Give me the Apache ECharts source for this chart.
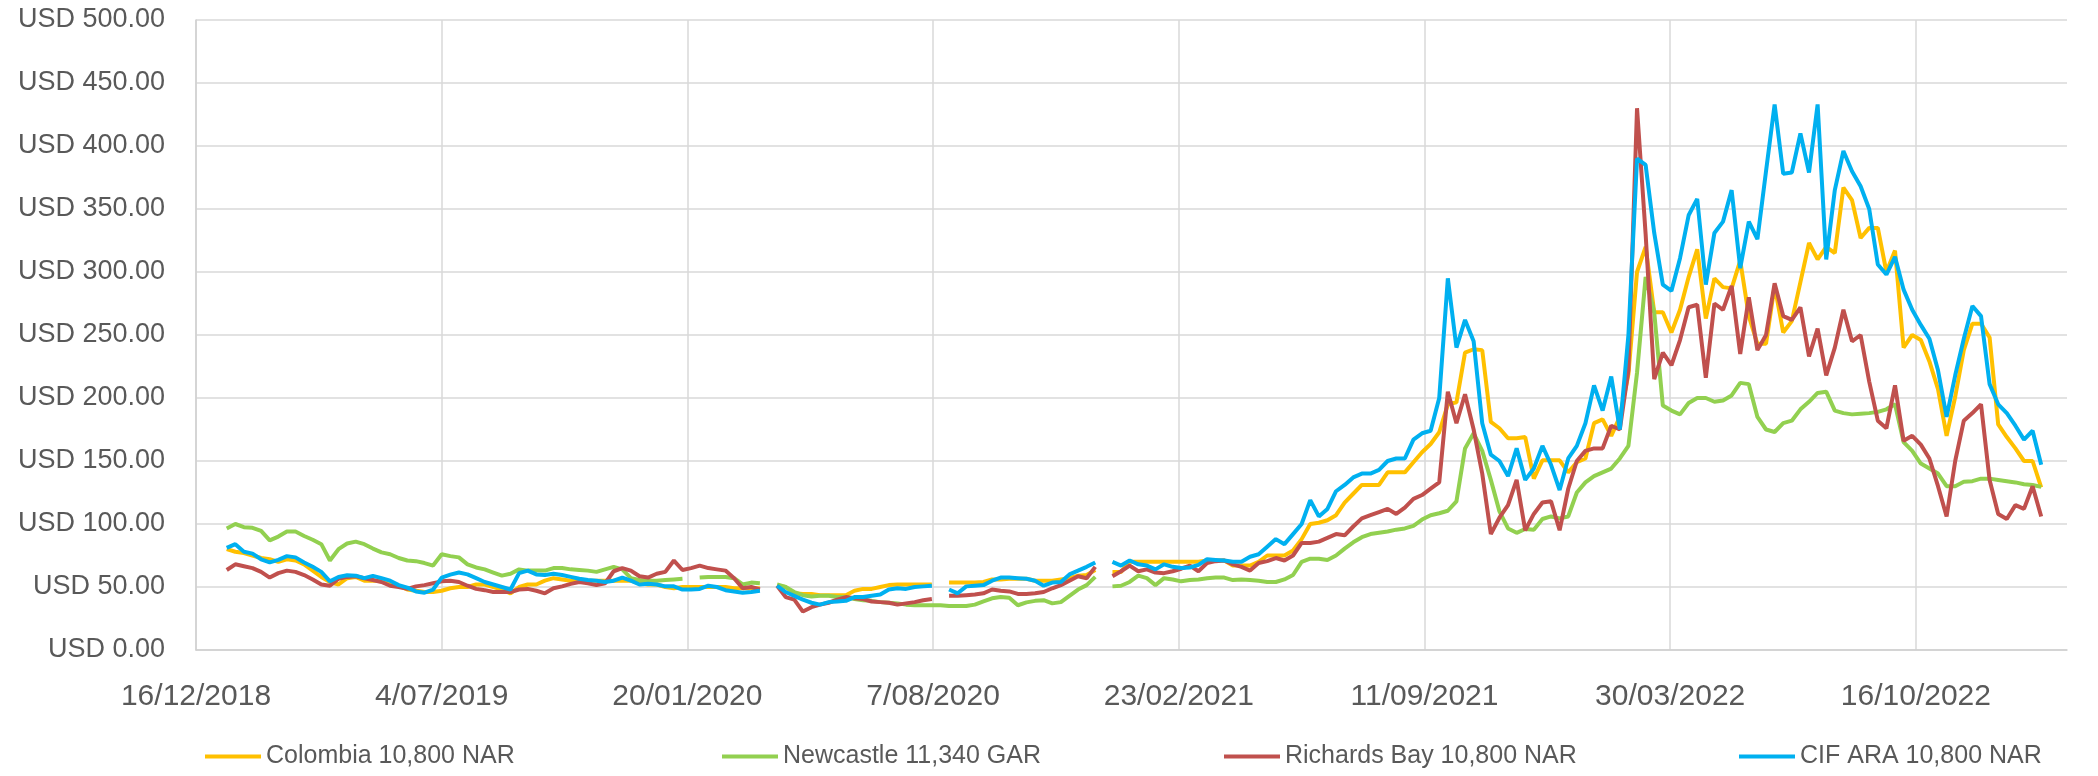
<!DOCTYPE html>
<html>
<head lang="en">
    <meta charset="UTF-8">
    <title>Thermal coal prices</title>
    <script src="https://cdn.jsdelivr.net/npm/echarts@6/dist/echarts.min.js"></script>
    <style>
        html, body { margin: 0; padding: 0; background: #fff; }
        #main { width: 2098px; height: 776px; }
    </style>
</head>
<body>
<div id="main"></div>
<script>
    // names and x tick labels (ticks every 200 days from 16/12/2018)
    var seriesNames = ['Colombia 10,800 NAR', 'Newcastle 11,340 GAR', 'Richards Bay 10,800 NAR', 'CIF ARA 10,800 NAR'];
    var xTickLabels = ['16/12/2018', '4/07/2019', '20/01/2020', '7/08/2020', '23/02/2021', '11/09/2021', '30/03/2022', '16/10/2022'];

    // weekly readings, first one on 10/01/2019 (day 25 after 16/12/2018), null = gap in the source data
    var colombia = [
        80, 78, 77, 75, 73, 72, 70, 72, 71, 68,
        63, 58, 54, 52, 57, 58, 55, 55, 55, 54,
        51, 48, 47, 46, 46, 47, 49, 50, 50, 52,
        52, 50, 48, 45, 50, 52, 52, 55, 57, 56,
        55, 55, 55, 55, 55, 55, 55, 55, 53, 52,
        52, 50, 49, 50, 50, 50, 50, 50, 50, 49,
        49, 49, 49, null, 51, 50, 45, 44.5, 44.5, 43.5,
        43.5, 43.5, 43.5, 47, 48.5, 48.5, 50, 51.5, 52, 52,
        52, 52, 52, null, 53.5, 53.5, 53.5, 53.5, 54, 56,
        56, 56.5, 56.5, 56.5, 55, 55, 55, 56, 57, 59,
        59.5, 63.5, null, 62, 62, 70, 70, 70, 70, 70,
        70, 70, 70, 70, 71, 71, 71, 67, 67, 67,
        70, 75, 75, 75, 79, 88, 100, 101, 103, 107,
        117, 124, 131, 131, 131, 141, 141, 141, 149, 157,
        163.5, 172.8, 195, 196.6, 236, 238.7, 238, 181, 176, 168,
        168, 169, 136, 150.5, 150.5, 150.5, 141, 149, 152, 180,
        183, 170, 185, 219, 300, 320, 268, 268, 252, 270,
        296, 318, 263, 295, 288, 287, 309, 265, 243, 243,
        289, 252, 261, 292, 323, 310, 320, 315, 367, 357,
        327, 335, 335, 300, 317, 240, 250, 246, 229, 207,
        170, 201, 238, 259, 259, 248, 179, 169, 160, 150,
        150, 129
    ];
    var newcastle = [
        96.5, 100, 97.5, 97, 94.5, 87, 90, 94, 94, 90.5,
        87.5, 84, 71, 80, 84.5, 86, 84, 80.5, 77.5, 76,
        73, 71, 70.5, 69, 67, 76, 74.5, 73.5, 68, 65.5,
        64, 61.5, 59, 60.5, 64, 63, 63, 63, 65, 65,
        64, 63.5, 63, 62, 64, 66, 64, 57, 55.5, 55,
        55, 55.5, 56, 56.5, null, 57.5, 58, 58, 58, 57,
        52, 53.5, 53, null, 52, 50, 46, 43.5, 42.5, 43,
        43, 42, 42, 40.5, 39.5, 39, 38, 37.5, 37, 36,
        35.5, 35.5, 35.5, 35.5, 35, 35, 35, 36, 38.5, 41,
        42, 41.5, 35.5, 37.8, 39, 39.5, 37, 38, 43, 48,
        51.5, 58, null, 50.5, 51, 54, 59, 57, 51.5, 57,
        56, 54.5, 55.5, 56, 57, 57.5, 57.5, 55.5, 56, 55.5,
        55, 54, 54, 56, 59.5, 70, 72.5, 72.5, 71.5, 75,
        80.5, 85.5, 89.5, 92, 93, 94, 95.5, 96.5, 98.5, 103.5,
        107, 108.5, 110.5, 118, 160, 172, 158, 135, 110, 96.5,
        93, 96, 95.5, 104, 106, 104.5, 106, 125, 133, 138,
        141, 144, 152, 162, 220, 296, 268, 194, 190, 187,
        196, 200, 200, 197, 198, 202, 212, 211, 185, 175,
        173, 180, 182, 191, 197, 204, 205, 190, 188, 187,
        187.5, 188, 189, 191, 195, 165, 158, 148, 144, 140,
        130, 130, 133.5, 134, 136, 136, 135, 134, 133, 131.5,
        131, 129.5
    ];
    var richardsBay = [
        63.5, 68, 66.5, 65, 62, 57.5, 61, 63, 62, 59.5,
        56, 52, 51, 56.5, 58, 58.5, 57, 55.5, 54, 51,
        50, 48.5, 50.5, 51.5, 53, 54.5, 55, 54, 51, 48.5,
        47.5, 46, 46, 46, 48, 48.5, 47, 45, 49, 50.5,
        52.5, 54, 53, 51.5, 53, 62.5, 65, 63, 58.5, 57.5,
        60.5, 62, 71, 63.5, 65, 67, 65, 64, 63, 57,
        49, 50, 48, null, 51, 42, 40, 30.5, 34, 36,
        37.5, 40, 42, 41, 40.5, 38.5, 38, 37.5, 36, 37,
        38, 39.5, 40.5, null, 43, 43, 43.5, 44, 45, 48,
        47, 46.5, 44.5, 44.5, 45, 46, 49, 51.5, 55, 58.5,
        57, 66, null, 58.5, 62.5, 67, 62.5, 64, 61.5, 61,
        62.5, 64.5, 67, 62.5, 69, 70.5, 71, 68, 66, 63,
        69, 70.5, 73, 71, 75, 85, 85, 86, 89, 92,
        91, 98, 104.5, 107, 109.5, 112, 108, 113, 120, 123,
        128, 133, 205, 180, 203, 175, 140, 92, 105, 115,
        135, 95, 108, 117, 118, 95, 128, 150, 158, 160,
        160, 178, 175, 222, 430, 330, 215, 236, 226, 246,
        272, 274, 216, 275, 270, 289, 235, 280, 238, 250,
        291, 265, 262, 272, 233, 255, 218, 240, 270, 245,
        250, 213, 182, 176, 210, 166, 170, 163, 152, 130,
        106, 150, 182, 188, 195, 135, 108, 104, 115, 112,
        130, 106
    ];
    var cifAra = [
        81, 84, 78, 76.5, 72, 69.5, 71.5, 74.5, 73.5, 69.5,
        66, 62, 54.5, 58, 59.3, 59, 57, 58.8, 57, 55,
        51.5, 49.5, 46.5, 45.5, 48, 57.5, 59.8, 61.5, 60, 57,
        54, 52, 50, 48, 61, 63, 60, 59.5, 60.5, 59.5,
        58, 56.5, 55.5, 55, 54, 55, 57.5, 55, 52, 52.5,
        52, 50.5, 50.5, 48, 48, 48.5, 51, 50, 47.5, 46.5,
        45.5, 46, 47, null, 51, 46, 43, 40, 37.5, 36,
        38, 38.5, 39, 42, 42, 43, 44, 48, 49, 48.5,
        50, 50.5, 51, null, 48, 45, 50.5, 51, 51.5, 55,
        57.5, 57.5, 57, 56.5, 55, 51, 53.5, 54, 60, 63,
        66, 69.5, null, 70, 67, 71, 68, 67, 64, 68,
        66, 65, 65.5, 67.5, 72, 71.5, 71, 70, 70, 74,
        76, 82, 88, 84, 92, 100, 119, 106, 112, 126,
        131, 137, 140, 140, 143, 150, 152, 152, 167, 172,
        174, 200, 295, 240, 262, 245, 180, 155, 150, 138,
        160, 135, 144, 162, 147, 127, 152, 162, 180, 210,
        190, 217, 175, 250, 390, 385, 331, 290, 285, 311,
        345, 358, 290, 331, 340, 365, 303, 340, 326, 380,
        433, 378, 379, 410, 379, 433, 310, 365, 396, 380,
        368, 350, 306, 298, 312, 286, 270, 258, 247, 222,
        185, 218, 247, 273, 265, 211, 195, 188, 178, 167,
        174, 147
    ];

    var firstDay = 25;
    var stepDays = 7;
    var colors = ['#FFC000', '#92D050', '#C0504D', '#00B0F0'];
    var allValues = [colombia, newcastle, richardsBay, cifAra];
    // legend columns, like the Excel legend
    var legendLeft = [205, 722, 1224, 1739];

    function toPoints(values) {
        return values.map(function (v, i) {
            return [firstDay + i * stepDays, v === null ? '-' : v];
        });
    }

    var font = '"Liberation Sans", Arial, sans-serif';
    var myChart = echarts.init(document.getElementById('main'));

    var option = {
        animation: false,
        backgroundColor: '#fff',
        color: colors,
        grid: { left: 196, right: 31, top: 20, bottom: 126, containLabel: false, outerBoundsMode: 'none' },
        legend: seriesNames.map(function (name, idx) {
            return {
                data: [name],
                left: legendLeft[idx],
                top: 744,
                padding: 0,
                icon: 'rect',
                itemWidth: 56,
                itemHeight: 4,
                textStyle: { fontFamily: font, fontSize: 25, color: '#595959' }
            };
        }),
        xAxis: {
            type: 'value',
            min: 0,
            max: 1523,
            interval: 200,
            axisLine: { show: true, lineStyle: { color: '#d0d0d0', width: 1.5 } },
            axisTick: { show: false },
            splitLine: { show: true, showMaxLine: false, lineStyle: { color: '#d9d9d9', width: 1.5 } },
            axisLabel: {
                margin: 32,
                fontFamily: font,
                fontSize: 30,
                color: '#595959',
                showMaxLabel: false,
                formatter: function (v) {
                    var i = v / 200;
                    return xTickLabels[i] !== undefined ? xTickLabels[i] : '';
                }
            }
        },
        yAxis: {
            type: 'value',
            min: 0,
            max: 500,
            interval: 50,
            axisLine: { show: true, lineStyle: { color: '#d0d0d0', width: 1.5 } },
            axisTick: { show: false },
            splitLine: { show: true, lineStyle: { color: '#d9d9d9', width: 1.5 } },
            axisLabel: {
                margin: 31,
                fontFamily: font,
                fontSize: 27,
                color: '#595959',
                formatter: function (v) { return 'USD ' + v.toFixed(2); }
            }
        },
        series: seriesNames.map(function (name, idx) {
            return {
                name: name,
                type: 'line',
                data: toPoints(allValues[idx]),
                showSymbol: false,
                symbol: 'none',
                connectNulls: false,
                lineStyle: { width: 4, color: colors[idx] },
                itemStyle: { color: colors[idx] }
            };
        })
    };

    myChart.setOption(option);
</script>
</body>
</html>
